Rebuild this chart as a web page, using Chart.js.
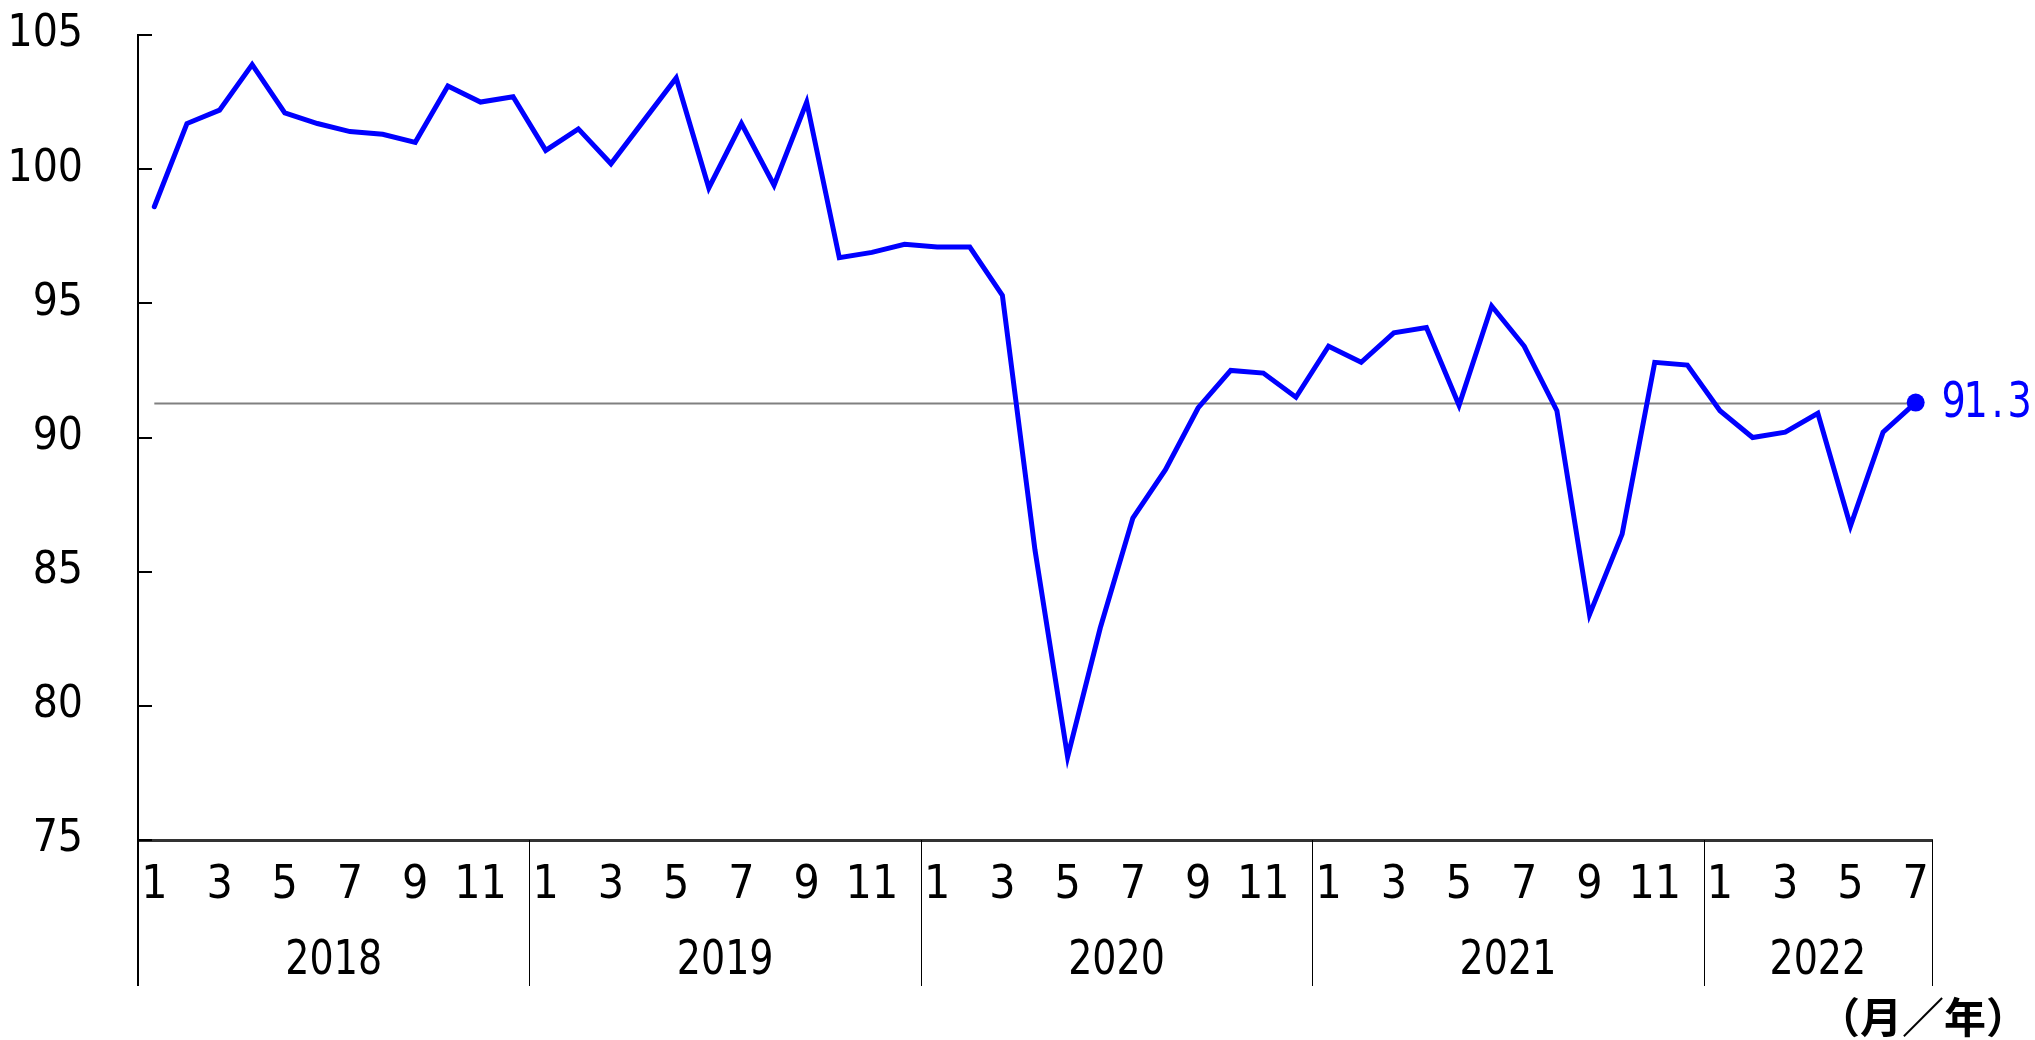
<!DOCTYPE html>
<html><head><meta charset="utf-8">
<script src="https://cdn.jsdelivr.net/npm/chart.js@4.4.1/dist/chart.umd.min.js"></script>
<style>html,body{margin:0;padding:0;background:#fff}#wrap{width:2035px;height:1040px;position:relative}</style>
</head><body><div id="wrap"><canvas id="c"></canvas></div>
<script>
// ---- data ----
const years = ['2018', '2019', '2020', '2021', '2022'];
const monthsPerYear = [12, 12, 12, 12, 7];
const values2018 = [98.6, 101.7, 102.2, 103.9, 102.1, 101.7, 101.4, 101.3, 101.0, 103.1, 102.5, 102.7];
const values2019 = [100.7, 101.5, 100.2, 101.8, 103.4, 99.3, 101.7, 99.4, 102.5, 96.7, 96.9, 97.2];
const values2020 = [97.1, 97.1, 95.3, 85.8, 78.1, 82.9, 87.0, 88.8, 91.1, 92.5, 92.4, 91.5];
const values2021 = [93.4, 92.8, 93.9, 94.1, 91.2, 94.9, 93.4, 91.0, 83.4, 86.4, 92.8, 92.7];
const values2022 = [91.0, 90.0, 90.2, 90.9, 86.7, 90.2, 91.3];
const shownMonths = [1, 3, 5, 7, 9, 11];
const REF_VALUE = 91.3;
const REF_LABEL = '91.3';
const Y_MIN = 75, Y_MAX = 105, Y_STEP = 5;
const UNIT_LABEL = '（月／年）';

const values = [].concat(values2018, values2019, values2020, values2021, values2022);
const catYear = [], catMonth = [], labels = [];
years.forEach((y, i) => { for (let m = 1; m <= monthsPerYear[i]; m++) { catYear.push(y); catMonth.push(m); labels.push(y + '/' + m); } });

function pickFont(cands) {
  const c = document.createElement('canvas').getContext('2d');
  const s = 'abcdefghij0123456789';
  c.font = '48px monospace'; const wm = c.measureText(s).width;
  for (const f of cands) {
    c.font = "48px '" + f + "', monospace"; const a = c.measureText(s).width;
    c.font = "48px '" + f + "', serif"; const b = c.measureText(s).width;
    if (Math.abs(a - b) < 0.01 && Math.abs(a - wm) > 0.01) return f;
  }
  return null;
}
const narrow = pickFont(['Liberation Sans Narrow', 'DejaVu Sans Condensed', 'Roboto Condensed', 'Arial Narrow', 'Open Sans Condensed']);
const FONT = narrow ? "'" + narrow + "',sans-serif" : "'Liberation Sans',sans-serif";
const SX = narrow ? 0.88 : 0.78;
const BLUE = '#0000ff';

const deco = {
  id: 'deco',
  beforeDatasetsDraw(chart) {
    const { ctx } = chart; const x = chart.scales.x, y = chart.scales.y;
    const yp = Math.round(y.getPixelForValue(REF_VALUE)) + 0.5;
    ctx.save();
    ctx.strokeStyle = '#808080'; ctx.lineWidth = 2;
    ctx.beginPath(); ctx.moveTo(x.getPixelForValue(0), yp); ctx.lineTo(x.getPixelForValue(values.length - 1), yp); ctx.stroke();
    ctx.restore();
  },
  afterDraw(chart) {
    const { ctx, chartArea } = chart; const x = chart.scales.x, y = chart.scales.y;
    ctx.save();
    // y tick marks (inside)
    ctx.strokeStyle = '#000'; ctx.lineWidth = 2;
    y.ticks.forEach(t => {
      const p = Math.round(y.getPixelForValue(t.value));
      ctx.beginPath(); ctx.moveTo(chartArea.left, p); ctx.lineTo(chartArea.left + 14, p); ctx.stroke();
    });
    // year separators and labels
    const step = x.getPixelForValue(1) - x.getPixelForValue(0);
    const bottom = 986;
    ctx.strokeStyle = '#000'; ctx.lineWidth = 1;
    let idx = 0;
    ctx.fillStyle = '#000'; ctx.font = '48px ' + FONT; ctx.textAlign = 'center'; ctx.textBaseline = 'middle';
    years.forEach((yr, i) => {
      const first = idx, last = idx + monthsPerYear[i] - 1;
      const xl = Math.round(x.getPixelForValue(first) - step / 2) + 0.5;
      ctx.beginPath(); ctx.moveTo(xl, chartArea.bottom); ctx.lineTo(xl, bottom); ctx.stroke();
      if (i === years.length - 1) {
        const xr = Math.round(x.getPixelForValue(last) + step / 2) + 0.5;
        ctx.beginPath(); ctx.moveTo(xr, chartArea.bottom); ctx.lineTo(xr, bottom); ctx.stroke();
      }
      const cx = (x.getPixelForValue(first) + x.getPixelForValue(last)) / 2;
      ctx.save(); ctx.translate(cx, 962); ctx.scale(SX, 1); ctx.fillText(yr, 0, 0); ctx.restore();
      idx = last + 1;
    });
    // y axis extension
    ctx.lineWidth = 2;
    ctx.beginPath(); ctx.moveTo(chartArea.left, chartArea.bottom); ctx.lineTo(chartArea.left, bottom); ctx.stroke();
    // end value label (monospaced cells)
    const li = values.length - 1;
    const px = x.getPixelForValue(li), py = y.getPixelForValue(values[li]);
    ctx.fillStyle = BLUE; ctx.font = '50px ' + FONT; ctx.textAlign = 'center'; ctx.textBaseline = 'middle';
    let tx = px + 38;
    for (const ch of REF_LABEL) {
      ctx.save(); ctx.translate(tx, py + 1); ctx.scale(narrow ? 0.85 : 0.7, 1); ctx.fillText(ch, 0, 0); ctx.restore();
      tx += 22;
    }
    // unit label
    ctx.fillStyle = '#000'; ctx.font = "bold 42px 'Noto Sans CJK JP',sans-serif"; ctx.textAlign = 'right';
    ctx.save(); ctx.translate(2028, 1017); ctx.fillText(UNIT_LABEL, 0, 0); ctx.restore();
    ctx.restore();
  }
};

new Chart(document.getElementById('c'), {
  type: 'line',
  data: {
    labels: labels,
    datasets: [{
      data: values,
      borderColor: BLUE, backgroundColor: BLUE, borderWidth: 5, tension: 0,
      pointRadius: c => c.dataIndex === values.length - 1 ? 9 : 0,
      pointHoverRadius: c => c.dataIndex === values.length - 1 ? 9 : 0,
      pointBorderWidth: 0, borderJoinStyle: 'miter', borderCapStyle: 'round'
    }]
  },
  options: {
    responsive: true, maintainAspectRatio: false, animation: false, devicePixelRatio: 1,
    layout: { padding: { top: 35, right: 103, left: 0, bottom: 0 } },
    plugins: { legend: { display: false }, tooltip: { enabled: false } },
    scales: {
      x: {
        type: 'category', offset: true,
        grid: { display: false, drawTicks: false },
        border: { display: true, color: '#333', width: 3 },
        ticks: {
          autoSkip: false, maxRotation: 0, minRotation: 0, padding: 18,
          color: '#000', font: { family: FONT, size: 46 },
          callback: (v, i) => shownMonths.includes(catMonth[i]) ? String(catMonth[i]) : ''
        },
        afterFit: s => { s.height = 200; s.paddingLeft = 0; s.paddingRight = 0; }
      },
      y: {
        min: Y_MIN, max: Y_MAX,
        grid: { display: false, drawTicks: false },
        border: { display: true, color: '#000', width: 2 },
        ticks: { stepSize: Y_STEP, padding: 55, color: '#000', font: { family: FONT, size: 44 } },
        afterFit: s => { s.width = 138; s.paddingTop = 0; s.paddingBottom = 0; }
      }
    }
  },
  plugins: [deco]
});
</script></body></html>
